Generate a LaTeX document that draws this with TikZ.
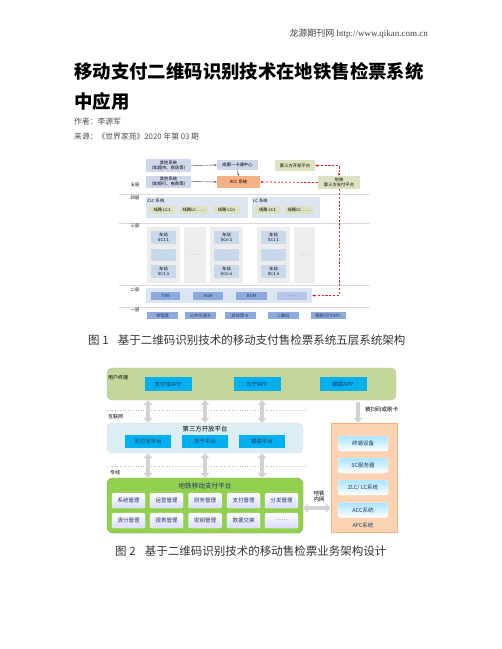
\documentclass[tikz,border=0pt]{standalone}
\usepackage{fontspec}
\setmainfont{Liberation Serif}
\newfontfamily\cjk{Noto Sans CJK SC}
\usetikzlibrary{arrows.meta,calc}
\definecolor{bgray}{HTML}{CDD8EA}
\definecolor{accor}{HTML}{F4B183}
\definecolor{khaki}{HTML}{DDE2C0}
\definecolor{lband}{HTML}{DCE6F2}
\definecolor{colgray}{HTML}{EDEDED}
\definecolor{sccol}{HTML}{C9D9EC}
\definecolor{peri}{HTML}{8EA9DB}
\definecolor{peril}{HTML}{B4C6E7}
\definecolor{sepc}{HTML}{D9D9D9}
\definecolor{redd}{HTML}{E8262A}
\definecolor{userg}{HTML}{C4D79B}
\definecolor{cyanb}{HTML}{00B0F0}
\definecolor{tpb}{HTML}{DBEEF3}
\definecolor{afco}{HTML}{FBD3B3}
\definecolor{greenp}{HTML}{92D050}
\definecolor{navy}{HTML}{1F3864}
\tikzset{
  tiny/.style={font=\cjk\fontsize{4.3}{5}\selectfont},
  fbox/.style={tiny, inner sep=0, align=center},
  sep/.style={draw=sepc, line width=0.6pt},
  blk/.style={-{Stealth[length=2.5pt,width=2pt]}, line width=0.4pt, draw=black!70},
  rdash/.style={draw=redd, dash pattern=on 2.2pt off 1.6pt, line width=0.8pt},
  rtip/.style={-{Stealth[length=3pt,width=2.6pt,color=redd]}},
  gdbl/.style={draw=gray!35, line width=3.5pt, {Triangle[width=9pt,length=5pt]}-{Triangle[width=9pt,length=5pt]}},
  gone/.style={draw=gray!35, line width=3.5pt, -{Triangle[width=9pt,length=5pt]}},
  cyb/.style={fill=cyanb, inner sep=0, minimum width=47, minimum height=14, font=\cjk\fontsize{5.5}{6}\selectfont, text=navy},
  mgb/.style={draw=white, rounded corners=1.5pt, top color=white, bottom color=blue!15, inner sep=0, minimum width=33, minimum height=15, font=\cjk\fontsize{5.5}{6}\selectfont, text=navy},
  afb/.style={draw=white, rounded corners=2.5pt, top color=blue!30!cyan!35, bottom color=white, inner sep=0, minimum width=50, minimum height=15, font=\cjk\fontsize{5.5}{6}\selectfont, text=navy},
  figcap/.style={anchor=west, inner sep=0, font=\cjk\fontsize{11.5}{12}\selectfont, text=black!80}
}
\begin{document}
\begin{tikzpicture}[x=1pt,y=-1pt]
\useasboundingbox (0,0) rectangle (502,649);
% header
\node[anchor=east, inner sep=0, font=\fontsize{9}{10}\selectfont, text=black!75] (hdr) at (428,34) {{\cjk 龙源期刊网} http://www.qikan.com.cn};
\node[anchor=west, inner sep=0, font=\cjk\bfseries\fontsize{18.4}{20}\selectfont] (t1) at (74,71) {移动支付二维码识别技术在地铁售检票系统};
\node[anchor=west, inner sep=0, font=\cjk\bfseries\fontsize{18.4}{20}\selectfont] (t2) at (74,101) {中应用};
\node[anchor=west, inner sep=0, font=\cjk\fontsize{7.8}{8}\selectfont, text=black!70] (au) at (74,122) {作者：李源军};
\node[anchor=west, inner sep=0, font=\cjk\fontsize{7.8}{8}\selectfont, text=black!70] (src) at (74,137) {来源：《世界家苑》2020 年第 03 期};

% ===== Figure 1 =====
\draw[sep] (119,194) -- (370,194);
\draw[sep] (119,223) -- (370,223);
\draw[sep] (119,285) -- (370,285);
\draw[sep] (119,307) -- (370,307);
\node[fbox] (l5) at (135,185) {五层};
\node[fbox] (l4) at (135,198) {四层};
\node[fbox] (l3) at (135,226) {三层};
\node[fbox] (l2) at (135,290) {二层};
\node[fbox] (l1) at (135,310) {一层};

\node[fbox, fill=bgray, minimum width=45, minimum height=13] (o1) at (168.5,165.5) {其他系统\\（如超市、商店等）};
\node[fbox, fill=bgray, minimum width=45, minimum height=12] (o2) at (168.5,181.5) {其他系统\\（如银行、电商等）};
\node[fbox, fill=bgray, minimum width=41, minimum height=10] (cd) at (237.5,165) {成都一卡通中心};
\node[fbox, fill=accor, minimum width=43, minimum height=12] (acc) at (238.5,182) {ACC 系统};
\node[fbox, fill=khaki, minimum width=40, minimum height=11] (tp) at (295,165.5) {第三方开发平台};
\node[fbox, fill=khaki, minimum width=42, minimum height=13] (mp) at (339,182.5) {地铁\\第三方支付平台};
\draw[blk] (o1.east) -- (cd.west);
\draw[blk] (o2.east) -- (acc.west);
\draw[blk] (cd.south) -- (acc.north);

% layer 4
\node[fill=lband, inner sep=0, minimum width=102, minimum height=21] (zlc) at (197,207.5) {};
\node[fill=lband, inner sep=0, minimum width=68, minimum height=21] (lc) at (286,207.5) {};
\node[fbox, anchor=west] (zlct) at (147,200.5) {ZLC 系统};
\node[fbox, anchor=west] (lct) at (253,200.5) {LC 系统};
\node[fbox, fill=khaki, minimum width=26, minimum height=8] (z1) at (162,209.5) {线路 LC1};
\node[fbox, fill=khaki, minimum width=28, minimum height=8] (z2) at (194,209.5) {线路LC……};
\node[fbox, fill=khaki, minimum width=27, minimum height=8] (z3) at (226.5,209.5) {线路 LCn};
\node[fbox, fill=khaki, minimum width=25, minimum height=8] (c1) at (267.5,209.5) {线路 LC1};
\node[fbox, fill=khaki, minimum width=28, minimum height=8] (c2) at (299,209.5) {线路LC……};

% layer 3
\node[fill=colgray, inner sep=0, minimum width=33, minimum height=56] (k1) at (163.5,255) {};
\node[fbox, fill=colgray, minimum width=22, minimum height=56, text=black!50] (k2) at (195,255) {……};
\node[fill=colgray, inner sep=0, minimum width=33, minimum height=56] (k3) at (226.5,255) {};
\node[fill=colgray, inner sep=0, minimum width=33, minimum height=56] (k4) at (273.5,255) {};
\node[fbox, fill=colgray, minimum width=21, minimum height=56, text=black!50] (k5) at (304.5,255) {……};
\foreach \cx/\nm/\lab in {163.5/a/SC1, 226.5/b/SCn, 273.5/c/SC1}{
  \node[fbox, fill=sccol, minimum width=25, minimum height=13] (\nm1) at (\cx,237.5) {车站\\\lab\ 1};
  \node[fbox, fill=sccol, minimum width=25, minimum height=12, text=black!60] (\nm2) at (\cx,255) {……};
  \node[fbox, fill=sccol, minimum width=25, minimum height=13] (\nm3) at (\cx,271.5) {车站\\\lab\ n};
}

% layer 2
\node[fill=lband, inner sep=0, minimum width=166, minimum height=15] (l2b) at (229,295.5) {};
\node[fbox, fill=peri, minimum width=29, minimum height=8, text=navy] (tvm) at (165.5,296) {TVM};
\node[fbox, fill=peri, minimum width=30, minimum height=8, text=navy] (agm) at (208,296) {AGM};
\node[fbox, fill=peri, minimum width=31, minimum height=8, text=navy] (bom) at (251.5,296) {BOM};
\node[fbox, fill=peril, minimum width=30, minimum height=8, text=navy] (dots2) at (292,296) {……};

% layer 1
\node[fbox, fill=peri, minimum width=31, minimum height=7, text=navy] (p1) at (162.5,315.5) {单程票};
\node[fbox, fill=peri, minimum width=31, minimum height=7, text=navy] (p2) at (200.5,315.5) {公共交通卡};
\node[fbox, fill=peri, minimum width=31, minimum height=7, text=navy] (p3) at (240,315.5) {其他票卡};
\node[fbox, fill=peri, minimum width=31, minimum height=7, text=navy] (p4) at (283,315.5) {二维码};
\node[fbox, fill=peri, minimum width=35, minimum height=7, text=navy] (p5) at (328,315.5) {银联闪付NFC};

% red dashed connectors
\draw[rdash, rtip] (mp.west) -- (acc.east);
\draw[rdash, {Stealth[length=3pt,width=2.6pt,color=redd]}-{Stealth[length=3pt,width=2.6pt,color=redd]}] (tp.east) -- (tp.east -| mp.north) -- (mp.north);
\draw[rdash, rtip] (mp.south) -- (mp.south |- l2b.east) -- (l2b.east);

\node[figcap] (cap1) at (88,340) {图 1\hspace{0.8em}基于二维码识别技术的移动支付售检票系统五层系统架构};

% ===== Figure 2 =====
\node[draw=gray!60, fill=userg, rounded corners=5pt, inner sep=0, minimum width=289, minimum height=32] (ub) at (251.5,384) {};
\node[anchor=west, inner sep=0, font=\cjk\fontsize{5}{6}\selectfont] (ut) at (108,378) {用户终端};
\node[cyb] (ua1) at (168,384) {支付宝APP};
\node[cyb] (ua2) at (257,384) {苏宁APP};
\node[cyb] (ua3) at (343,384) {银联APP};

\draw[gray!55, dotted, line width=0.6pt] (107,410) -- (307,410);
\draw[gray!55, dotted, line width=0.6pt] (107,466) -- (307,466);
\node[anchor=west, inner sep=0, font=\cjk\fontsize{5}{6}\selectfont] (inet) at (108,417) {互联网};
\node[anchor=west, inner sep=0, font=\cjk\fontsize{5}{6}\selectfont] (zx) at (110,473) {专线};

\node[draw=gray!25, fill=tpb, rounded corners=5pt, inner sep=0, minimum width=196, minimum height=30] (tb) at (205,438) {};
\node[inner sep=0, font=\cjk\fontsize{6.4}{7}\selectfont] (tbt) at (205,429) {第三方开放平台};
\node[cyb, minimum width=46, minimum height=13] (pa1) at (148,441.5) {支付宝平台};
\node[cyb, minimum width=46, minimum height=13] (pa2) at (205,441.5) {苏宁平台};
\node[cyb, minimum width=46, minimum height=13] (pa3) at (262,441.5) {银联平台};

\draw[gdbl] (ub.south -| pa1) -- (tb.north -| pa1);
\draw[gdbl] (ub.south -| pa2) -- (tb.north -| pa2);
\draw[gdbl] (ub.south -| pa3) -- (tb.north -| pa3);

\node[draw=greenp!80!black, fill=greenp, rounded corners=6pt, inner sep=0, minimum width=196, minimum height=55] (gp) at (205,505.5) {};
\node[inner sep=0, font=\cjk\fontsize{6.6}{7}\selectfont, text=navy] (gpt) at (205,485.5) {地铁移动支付平台};
\node[mgb] (m1) at (128.5,500.5) {系统管理};
\node[mgb] (m2) at (166.5,500.5) {运营管理};
\node[mgb] (m3) at (205,500.5) {财务管理};
\node[mgb] (m4) at (243.5,500.5) {支付管理};
\node[mgb] (m5) at (281.5,500.5) {分发管理};
\node[mgb] (m6) at (128.5,520.5) {清分管理};
\node[mgb] (m7) at (166.5,520.5) {报表管理};
\node[mgb] (m8) at (205,520.5) {密钥管理};
\node[mgb] (m9) at (243.5,520.5) {数据交换};
\node[mgb] (m10) at (281.5,520.5) {……};

\draw[gdbl] (tb.south -| pa1) -- (gp.north -| pa1);
\draw[gdbl] (tb.south -| pa2) -- (gp.north -| pa2);
\draw[gdbl] (tb.south -| pa3) -- (gp.north -| pa3);

\node[draw=accor, fill=afco, inner sep=0, minimum width=66, minimum height=109] (afc) at (364,477.5) {};
\node[afb] (f1) at (363,443.5) {终端设备};
\node[afb] (f2) at (363,465.5) {SC服务器};
\node[afb] (f3) at (363,487.5) {ZLC/ LC系统};
\node[afb] (f4) at (363,510) {ACC系统};
\node[inner sep=0, font=\cjk\fontsize{5.5}{6}\selectfont, text=navy] (afct) at (363,525) {AFC系统};

\coordinate (dn) at ($(ub.south -| afc)+(-6,2)$);
\draw[gone] (dn) -- (dn |- afc.north);
\node[anchor=west, inner sep=0, font=\cjk\fontsize{5.5}{6}\selectfont] (scan) at (365,409) {被扫码或刷卡};

\draw[gdbl] (gp.east |- m4.south) -- (afc.west |- m4.south);
\node[inner sep=0, align=center, font=\cjk\fontsize{5.5}{6}\selectfont] (nw) at (319,496) {地铁\\内网};

\node[figcap] (cap2) at (115,551) {图 2\hspace{0.8em}基于二维码识别技术的移动售检票业务架构设计};
\end{tikzpicture}
\end{document}
